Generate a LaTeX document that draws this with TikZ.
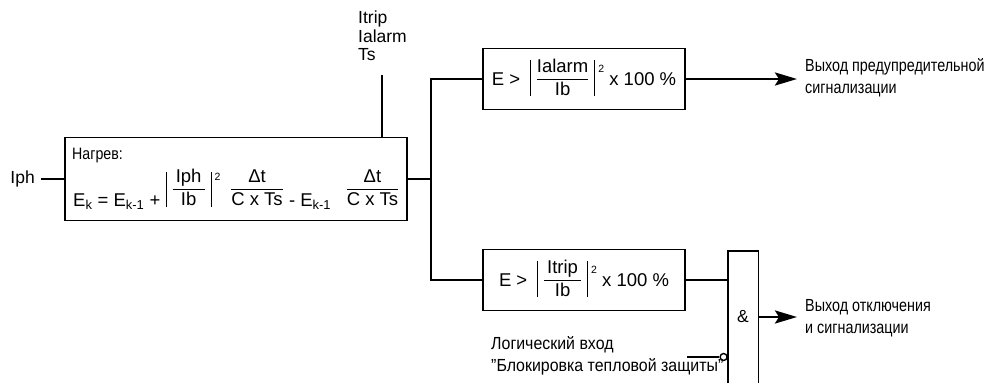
\documentclass[tikz,border=0pt]{standalone}
\usepackage{amsmath}
\usepackage{graphicx}
\usepackage{fontspec}
\setmainfont{Liberation Sans}
\usetikzlibrary{arrows.meta,positioning}

\newcommand{\lblfont}{\fontsize{17.5}{21}\selectfont}
% square, bar and fraction of the formulas
\newcommand{\sqr}[1]{\raisebox{#1}{\fontsize{10.5}{10.5}\selectfont 2}}
\newcommand{\vbar}[2]{\rule[#1]{1.2pt}{#2}}
\newcommand{\txtfrac}[2]{\dfrac{\text{#1}}{\text{#2}}}
% narrow two-line label
\newcommand{\narrowlbl}[3]{\scalebox{#1}[1]{\begin{tabular}{@{}l@{}}#2\\#3\end{tabular}}}

\begin{document}
\begin{tikzpicture}[x=1pt, y=-1pt, >={Stealth[length=22pt, width=13pt, inset=4pt]},
    box/.style={draw, line width=1.4pt, minimum width=202pt, minimum height=61pt, inner sep=0pt,
        text height=24pt, text depth=12pt, font=\fontsize{18.5}{22}\selectfont},
    wire/.style={line width=2.8pt},
    lbl/.style={inner sep=0pt, font=\lblfont},
    msg/.style={inner sep=0pt, anchor=west, font=\fontsize{17.5}{22}\selectfont}]
    \useasboundingbox (0,0) rectangle (988,383);

    % ==== HEATING BLOCK ====
    \node[draw, line width=1.4pt, minimum width=342pt, minimum height=83pt, inner sep=0pt] (heat) at (236,179) {};
    \node[anchor=base west, inner sep=0pt, font=\fontsize{16.5}{17}\selectfont] (heattitle) at (72,159) {\scalebox{0.86}[1]{Нагрев:}};
    \node[anchor=base west, inner sep=0pt, font=\fontsize{18.5}{21}\selectfont] (heatform) at (73,206)
        {$\text{E}_{\text{k}}\text{ = E}_{\text{k-1}}\text{ + }\vbar{-1pt}{35pt}\;\raisebox{12pt}{$\txtfrac{\,Iph\,}{Ib}$}\;\vbar{-1pt}{35pt}\,\sqr{25.5pt}\;\;\raisebox{12pt}{$\txtfrac{Δt}{C x Ts}$}\text{ - E}_{\text{k-1}}\;\;\;\raisebox{12pt}{$\txtfrac{Δt}{C x Ts}$}$};

    % ==== INPUT ====
    \node[lbl, anchor=east] (iph) at (35,179) {Iph};
    \draw[wire] ([xshift=6pt]iph.east) -- (heat.west);

    % ==== SETTINGS ====
    \node[inner sep=0pt, anchor=north west, align=left, font=\fontsize{17.5}{18.5}\selectfont] (param) at (358,11) {Itrip\\Ialarm\\Ts};
    \coordinate (paramend) at (382,75);
    \draw[line width=2pt] (paramend) -- (paramend |- heat.north);

    % ==== THRESHOLDS ====
    \node[box] (alarm) at (584,79)
        {$\text{E >}\;\;\vbar{-11pt}{36pt}\;\raisebox{1pt}{$\txtfrac{Ialarm}{Ib}$}\;\vbar{-11pt}{36pt}\,\sqr{13pt}\text{ x 100 \%}$};
    \node[box] (trip) at (584,280)
        {$\text{E >}\;\;\vbar{-11pt}{36pt}\;\raisebox{1pt}{$\txtfrac{\,Itrip\,}{Ib}$}\;\vbar{-11pt}{36pt}\,\sqr{13pt}\text{ x 100 \%}$};

    % ==== SPLIT ====
    \coordinate (split) at (431,179);
    \draw[wire] (heat.east) -- (split);
    \draw[wire] (alarm.west) -| (split) |- (trip.west);

    % ==== OUTPUT LABELS ====
    \node[msg] (alarmmsg) at (805,78) {\narrowlbl{0.82}{Выход предупредительной}{сигнализации}};
    \node[msg] (tripmsg) at (805,318) {\narrowlbl{0.82}{Выход отключения}{и сигнализации}};

    % ==== AND GATE ====
    \node[inner sep=0pt, minimum width=30pt, minimum height=132pt, font=\lblfont] (gate) at (743,317) {\&};
    \draw[line width=1.4pt] (gate.south west) |- (gate.north east) -- (gate.south east);
    \draw[wire] (trip.east) -- (trip.east -| gate.west);

    % ==== ARROWS OUT ====
    \draw[wire, ->, shorten >=8pt] (alarm.east) -- (alarm.east -| alarmmsg.west);
    \draw[wire, ->, shorten >=8pt] (gate.east) -- (gate.east -| tripmsg.west);

    % ==== BLOCKING INPUT ====
    \coordinate (blockin) at (687,357);
    \node[circle, draw, line width=1.4pt, minimum size=7pt, inner sep=0pt, anchor=east] (inv) at (gate.west |- blockin) {};
    \draw[wire] (blockin) -- (inv.west);
    \node[msg] (blocklbl) at (491,356) {\narrowlbl{0.91}{Логический вход}{"Блокировка тепловой защиты"}};

\end{tikzpicture}
\end{document}
